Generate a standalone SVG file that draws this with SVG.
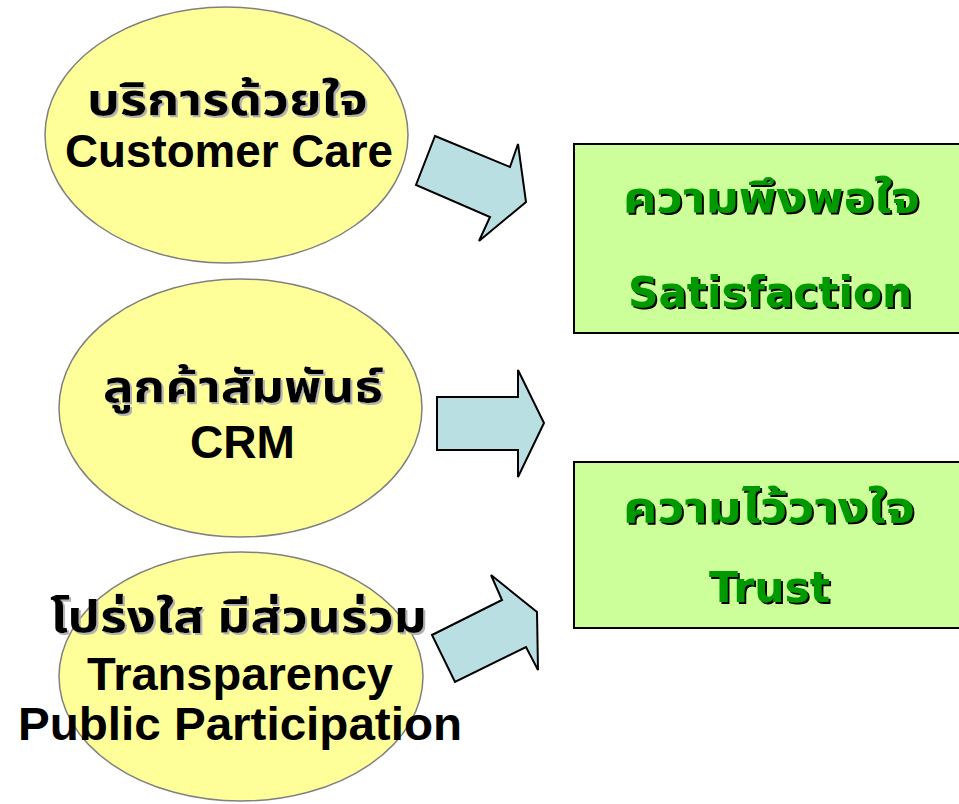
<svg xmlns="http://www.w3.org/2000/svg" width="959" height="804" viewBox="0 0 959 804">
<defs>
<filter id="sg" x="-5%" y="-20%" width="110%" height="140%">
<feDropShadow dx="2" dy="2" stdDeviation="0" flood-color="#B2B2B2" flood-opacity="1"/>
</filter>
<filter id="sk" x="-5%" y="-20%" width="110%" height="140%">
<feDropShadow dx="2" dy="2" stdDeviation="0" flood-color="#000000" flood-opacity="1"/>
</filter>
</defs>
<style>
.ell{fill:#FFFF99;stroke:#808080;stroke-width:1.5}
.arr{fill:#BADFE3;stroke:#000;stroke-width:2;stroke-linejoin:miter}
.box{fill:#CCFF99;stroke:#000;stroke-width:2}
.bt{font-family:"Liberation Sans",Arial,"Noto Sans Thai","Noto Sans",sans-serif;font-weight:bold;font-size:46px;fill:#000;text-anchor:middle}
.th{font-family:Tahoma,"Noto Sans Thai","Noto Sans","DejaVu Sans",sans-serif;font-weight:bold;font-size:44px;text-anchor:middle;fill:#000;filter:url(#sg)}
.gt{font-family:Tahoma,"DejaVu Sans","Noto Sans Thai",sans-serif;font-weight:bold;font-size:42px;fill:#009900;text-anchor:middle;filter:url(#sk)}
</style>
<g id="connectors">
<polygon class="arr" points="435,136 510,167 518,144 526,202 479,241 490,217 416,185"/>
<polygon class="arr" points="437,397 518,397 518,370 544,423 518,477 518,450 437,450"/>
<polygon class="arr" points="432,635 502,600 491,575 537,612 538,670 526,647 455,682"/>
</g>
<g id="node-customer-care">
<ellipse class="ell" cx="226.5" cy="135" rx="181.5" ry="128"/>
<text class="th" x="227.5" y="115" textLength="281" lengthAdjust="spacingAndGlyphs">บริการด้วยใจ</text>
<text class="bt" x="229" y="167" textLength="328" lengthAdjust="spacingAndGlyphs">Customer Care</text>
</g>
<g id="node-crm">
<ellipse class="ell" cx="240.5" cy="408" rx="181.5" ry="129"/>
<text class="th" x="243" y="402" textLength="280" lengthAdjust="spacingAndGlyphs">ลูกค้าสัมพันธ์</text>
<text class="bt" x="242.5" y="458" textLength="105" lengthAdjust="spacingAndGlyphs">CRM</text>
</g>
<g id="node-transparency">
<ellipse class="ell" cx="241" cy="676.5" rx="182" ry="124.5"/>
<text class="th" x="238.5" y="632" textLength="377" lengthAdjust="spacingAndGlyphs">โปร่งใส มีส่วนร่วม</text>
<text class="bt" x="240" y="690" textLength="306" lengthAdjust="spacingAndGlyphs">Transparency</text>
<text class="bt" x="240" y="740" textLength="444" lengthAdjust="spacingAndGlyphs">Public Participation</text>
</g>
<g id="node-satisfaction">
<rect class="box" x="574" y="144" width="400" height="189"/>
<text class="gt" x="771.5" y="212" textLength="297" lengthAdjust="spacingAndGlyphs">ความพึงพอใจ</text>
<text class="gt" x="770" y="307" textLength="284" lengthAdjust="spacingAndGlyphs">Satisfaction</text>
</g>
<g id="node-trust">
<rect class="box" x="574" y="462" width="400" height="166"/>
<text class="gt" x="769" y="522" textLength="292" lengthAdjust="spacingAndGlyphs">ความไว้วางใจ</text>
<text class="gt" x="769.5" y="602" textLength="121" lengthAdjust="spacingAndGlyphs">Trust</text>
</g>
</svg>
